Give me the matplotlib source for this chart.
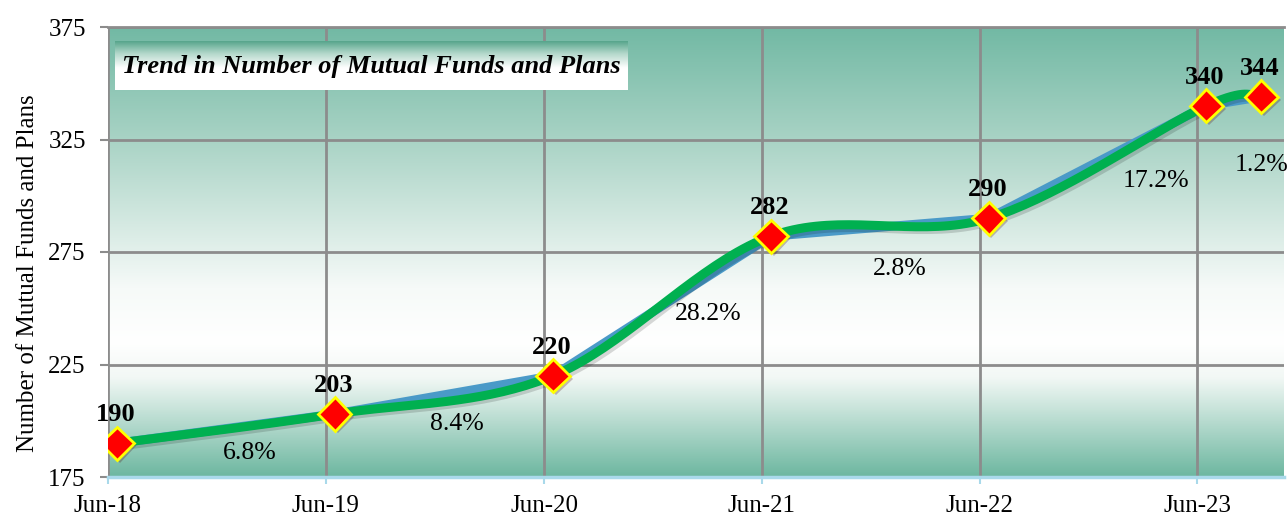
import numpy as np
import matplotlib
matplotlib.use("Agg")
import matplotlib.pyplot as plt
import matplotlib.dates as mdates
import matplotlib.patheffects as pe
from matplotlib.colors import LinearSegmentedColormap
from datetime import date

# data
dates = [date(2018, 6, 30), date(2019, 6, 30), date(2020, 6, 30), date(2021, 6, 30),
         date(2022, 6, 30), date(2023, 6, 30), date(2023, 9, 30)]
counts = [190, 203, 220, 282, 290, 340, 344]
growth = ["6.8%", "8.4%", "28.2%", "2.8%", "17.2%", "1.2%"]
tick_dates = [date(y, 6, 15) for y in range(2018, 2024)]
tick_labels = ["Jun-18", "Jun-19", "Jun-20", "Jun-21", "Jun-22", "Jun-23"]
y_ticks = [175, 225, 275, 325, 375]

plt.rcParams["font.family"] = ["Liberation Serif", "DejaVu Serif"]

W, H = 1288, 518
fig = plt.figure(figsize=(W / 100, H / 100), dpi=100)
ax = fig.add_axes([108 / W, 1 - 477 / H, 1176 / W, 450 / H])

x = mdates.date2num(dates)
xmin = mdates.date2num(date(2018, 6, 15))
xmax = mdates.date2num(date(2023, 11, 7))
ax.set_xlim(xmin, xmax)
ax.set_ylim(175, 375)

# background gradient (teal - white - teal)
cmap = LinearSegmentedColormap.from_list(
    "bg", [(0.0, "#6db7a0"), (0.22, "#f2f8f5"), (0.30, "#ffffff"), (0.42, "#f6faf8"),
           (0.75, "#a9d3c5"), (1.0, "#72b9a4")])
grad = np.linspace(0, 1, 256).reshape(-1, 1)
ax.imshow(grad, cmap=cmap, aspect="auto", origin="lower",
          extent=[xmin, xmax, 175, 375], zorder=0)

# grid
for t in mdates.date2num(tick_dates):
    ax.axvline(t, color="#8c8c8c", lw=2, zorder=1)
for yv in y_ticks[1:]:
    ax.axhline(yv, color="#8c8c8c", lw=2, zorder=1)

for s in ["left", "right"]:
    ax.spines[s].set_visible(False)
ax.spines["top"].set_color("#8c8c8c")
ax.spines["top"].set_linewidth(2)
ax.spines["bottom"].set_color("#a9d9ea")
ax.spines["bottom"].set_linewidth(2.5)

ax.set_xticks(mdates.date2num(tick_dates))
ax.set_xticklabels(tick_labels, fontsize=18)
ax.set_yticks(y_ticks)
ax.set_yticklabels([str(v) for v in y_ticks], fontsize=18)
ax.tick_params(axis="x", color="#a9d9ea", length=5, width=1.5, pad=8)
ax.tick_params(axis="y", color="#8c8c8c", length=6, width=1.5, pad=10)
fig.text(28 / W, 1 - 273 / H, "Number of Mutual Funds and Plans", rotation=90,
         ha="center", va="center", fontsize=18)

# smoothed line (Catmull-Rom in display coords)
pts = ax.transData.transform(np.column_stack([x, counts]))
P = np.vstack([pts[0], pts, pts[-1]])
curve = []
for i in range(1, len(P) - 2):
    p0, p1, p2, p3 = P[i - 1], P[i], P[i + 1], P[i + 2]
    c1 = p1 + (p2 - p0) / 6
    c2 = p2 - (p3 - p1) / 6
    t = np.linspace(0, 1, 40)[:, None]
    seg = (1 - t) ** 3 * p1 + 3 * (1 - t) ** 2 * t * c1 + 3 * (1 - t) * t ** 2 * c2 + t ** 3 * p2
    curve.append(seg)
curve = ax.transData.inverted().transform(np.vstack(curve))

shadow = [pe.SimpleLineShadow(offset=(2, -2), shadow_color="k", alpha=0.15), pe.Normal()]
ax.plot(x, counts, color="#4a9ac8", lw=6.5, solid_capstyle="round", zorder=3)
ax.plot(curve[:, 0], curve[:, 1], color="#00b050", lw=6.5, solid_capstyle="round", zorder=4,
        path_effects=shadow)
ax.plot(x, counts, linestyle="none", marker="D", markersize=17, markerfacecolor="#ff0000",
        markeredgecolor="#ffff00", markeredgewidth=2, zorder=5,
        path_effects=[pe.SimplePatchShadow(offset=(2, -2), alpha=0.25), pe.Normal()])

# value labels
for xi, v in zip(x, counts):
    ax.annotate(str(v), (xi, v), xytext=(-1, 16), textcoords="offset points",
                ha="center", va="baseline", fontsize=19, fontweight="bold", zorder=6)

# growth labels, offsets (px) from segment midpoint
label_off = [(24, -24), (13, -29), (46, -8), (20, -42), (58, -19), (0, -68)]
for i, g in enumerate(growth):
    mx = (x[i] + x[i + 1]) / 2
    my = (counts[i] + counts[i + 1]) / 2
    if i == len(growth) - 1:
        mx, my = x[i + 1], counts[i + 1]
    dx, dy = label_off[i]
    ax.annotate(g, (mx, my), xytext=(dx * 0.72, dy * 0.72), textcoords="offset points",
                ha="center", va="center", fontsize=18.5, zorder=6)

# title box with gradient
tax = fig.add_axes([115 / W, 1 - 90 / H, 513 / W, 49 / H])
tcmap = LinearSegmentedColormap.from_list(
    "tb", [(0.0, "#ffffff"), (0.45, "#ffffff"), (0.75, "#b2d7ca"), (1.0, "#56a58b")])
tax.imshow(grad, cmap=tcmap, aspect="auto", origin="lower", extent=[0, 1, 0, 1])
tax.set_xlim(0, 1)
tax.set_ylim(0, 1)
tax.axis("off")
tax.text(0.5, 0.47, "Trend in Number of Mutual Funds and Plans", ha="center", va="center",
         fontsize=19, fontweight="bold", fontstyle="italic")

fig.savefig("out.png", dpi=100)
